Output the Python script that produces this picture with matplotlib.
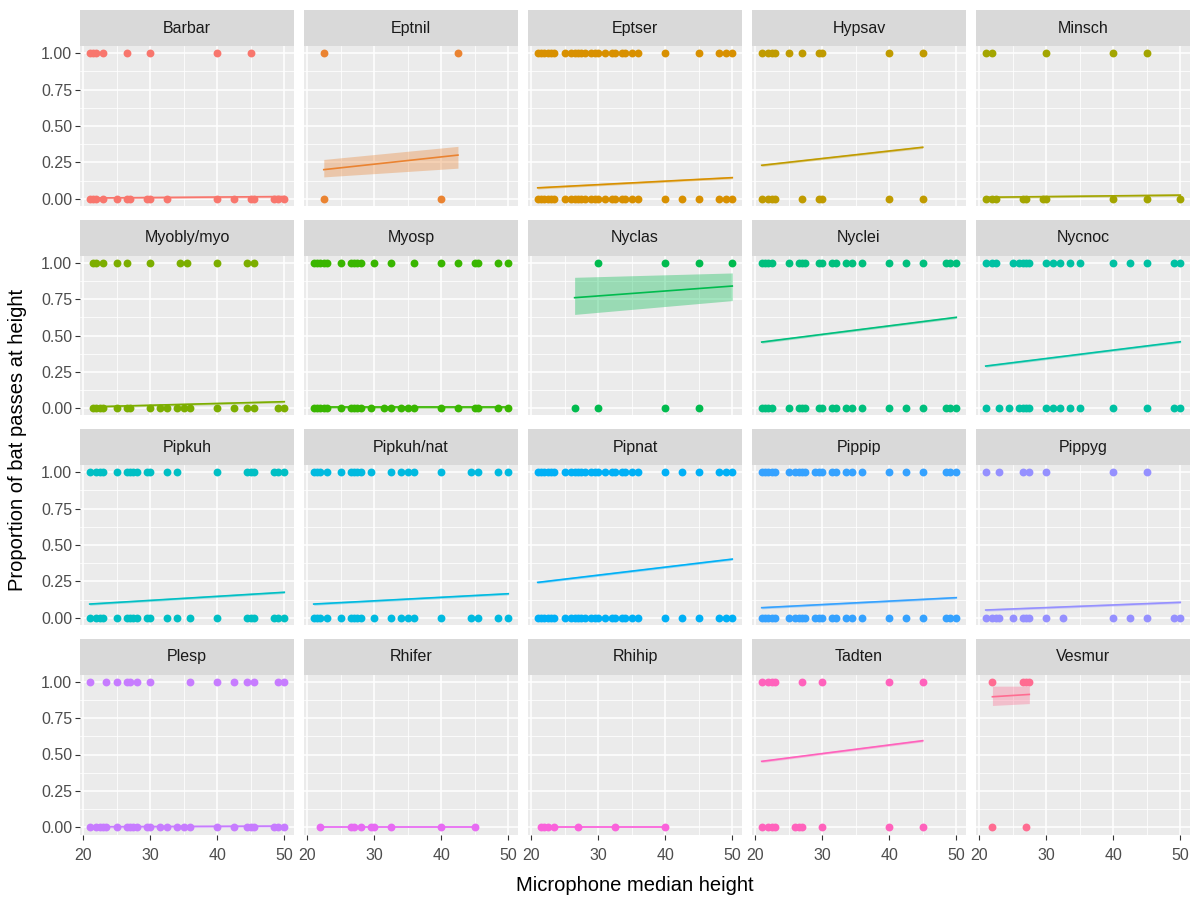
import matplotlib
matplotlib.use("Agg")
import matplotlib.pyplot as plt

plt.rcParams['font.family'] = ['Liberation Sans', 'DejaVu Sans']

species = ["Barbar", "Eptnil", "Eptser", "Hypsav", "Minsch",
           "Myobly/myo", "Myosp", "Nyclas", "Nyclei", "Nycnoc",
           "Pipkuh", "Pipkuh/nat", "Pipnat", "Pippip", "Pippyg",
           "Plesp", "Rhifer", "Rhihip", "Tadten", "Vesmur"]

# ggplot default hue palette for 20 levels
colours = ["#F8766D", "#EA8331", "#D89000", "#C09B00", "#A3A500",
           "#7CAE00", "#39B600", "#00BB4E", "#00BF7D", "#00C1A3",
           "#00BFC4", "#00BAE0", "#00B0F6", "#35A2FF", "#9590FF",
           "#C77CFF", "#E76BF3", "#FA62DB", "#FF62BC", "#FF6C91"]

# microphone heights where the proportion was 1
ones = {
    "Barbar": [21, 21.5, 22, 23, 26.5, 30, 40, 45],
    "Eptnil": [22.5, 42.5],
    "Eptser": [21, 21.5, 22, 22.5, 23, 23.5, 25, 26, 26.5, 27, 27.5, 28, 29, 29.5, 30,
               31, 32, 32.5, 33.5, 34, 35, 36, 40, 45, 48, 49, 50],
    "Hypsav": [21, 22, 22.5, 23, 25, 27, 29.5, 30, 40, 45],
    "Minsch": [21, 22, 30, 40, 45],
    "Myobly/myo": [21.5, 22, 23, 25, 26.5, 30, 34.5, 35.5, 40, 44.5, 45.5],
    "Myosp": [21, 21.5, 22, 22.5, 23, 25, 26.5, 27, 27.5, 28, 30, 32.5, 36, 40, 42.5,
              45, 45.5, 48.5, 50],
    "Nyclas": [30, 40, 45, 50],
    "Nyclei": [21, 21.5, 22, 22.5, 25, 26.5, 27, 27.5, 29.5, 30, 31.5, 32, 33.5, 34.5,
               36, 40, 42.5, 45, 48.5, 49, 50],
    "Nycnoc": [21, 22, 22.5, 25, 26, 26.5, 27, 27.5, 30, 31, 32, 33.5, 35, 40, 42.5,
               45, 49, 50],
    "Pipkuh": [21, 22, 22.5, 23, 25, 26.5, 27, 27.5, 28, 29.5, 30, 32.5, 34, 40, 44.5,
               45, 45.5, 48.5, 49, 50],
    "Pipkuh/nat": [21, 21.5, 22, 23, 25, 26.5, 27, 27.5, 28, 29.5, 32.5, 34, 35, 36, 40,
                   44.5, 45.5, 48.5, 50],
    "Pipnat": [21, 21.5, 22, 22.5, 23, 23.5, 25, 26, 26.5, 27, 27.5, 28, 29, 29.5, 30,
               31, 32, 32.5, 33.5, 34, 35, 36, 40, 42.5, 45, 48, 49, 50],
    "Pippip": [21, 21.5, 22, 22.5, 23, 25, 26, 26.5, 27, 27.5, 29, 29.5, 30, 31.5, 32,
               33.5, 34.5, 36, 40, 42.5, 45, 48.5, 49, 50],
    "Pippyg": [21, 23, 26.5, 27.5, 30, 40, 45],
    "Plesp": [21, 23.5, 25, 26.5, 27, 28, 30, 36, 40, 42.5, 44.5, 45.5, 49, 50],
    "Rhifer": [],
    "Rhihip": [],
    "Tadten": [21, 22, 22.5, 23, 27, 30, 40, 45],
    "Vesmur": [22, 26.5, 27, 27.5],
}

# microphone heights where the proportion was 0
zeros = {
    "Barbar": [21, 21.5, 22, 23, 25, 26.5, 27, 29.5, 30, 32.5, 40, 42.5, 45, 45.5,
               48.5, 49, 50],
    "Eptnil": [22.5, 40],
    "Eptser": [21, 21.5, 22, 22.5, 23, 23.5, 25, 26, 26.5, 27, 27.5, 28, 29, 29.5, 30,
               31, 32, 32.5, 33.5, 34, 35, 36, 40, 42.5, 45, 48, 49, 50],
    "Hypsav": [21, 22, 22.5, 23, 27, 29.5, 30, 40, 45],
    "Minsch": [21, 22, 22.5, 26.5, 27, 29.5, 30, 40, 45, 50],
    "Myobly/myo": [21.5, 22, 22.5, 23, 25, 26.5, 27, 30, 31.5, 32.5, 34, 35, 36, 40,
                   42.5, 44.5, 45.5, 49, 50],
    "Myosp": [21, 21.5, 22, 22.5, 23, 25, 26.5, 27, 27.5, 28, 29.5, 31.5, 32.5, 34, 35,
              36, 40, 42.5, 45, 45.5, 48.5, 50],
    "Nyclas": [26.5, 30, 40, 45],
    "Nyclei": [21, 21.5, 22, 22.5, 25, 26.5, 27, 27.5, 29.5, 30, 31.5, 32, 33.5, 34.5,
               36, 40, 42.5, 45, 48.5, 49, 50],
    "Nycnoc": [21, 23, 24.5, 26, 26.5, 27, 27.5, 30, 31, 32, 33.5, 35, 40, 45, 49, 50],
    "Pipkuh": [21, 22, 22.5, 23, 25, 26.5, 27, 27.5, 28, 29.5, 30, 32.5, 34, 36, 40,
               44.5, 45, 45.5, 48.5, 49, 50],
    "Pipkuh/nat": [21, 21.5, 22, 23, 25, 26.5, 27, 27.5, 28, 30, 32.5, 34, 35, 36, 40,
                   44.5, 45.5, 48.5, 50],
    "Pipnat": [21, 21.5, 22, 22.5, 23, 23.5, 25, 26, 26.5, 27, 27.5, 28, 29, 29.5, 30,
               31, 32, 32.5, 33.5, 34, 35, 36, 40, 42.5, 45, 48, 49, 50],
    "Pippip": [21, 21.5, 22, 22.5, 23, 25, 26, 26.5, 27, 27.5, 29, 29.5, 30, 31.5, 32,
               33.5, 34.5, 36, 40, 42.5, 45, 48.5, 49, 50],
    "Pippyg": [21, 22, 22.5, 23, 25, 26.5, 27, 27.5, 30, 32.5, 40, 42.5, 45, 49, 50],
    "Plesp": [21, 22, 22.5, 23, 23.5, 25, 26.5, 27, 27.5, 28, 29.5, 30, 31.5, 32.5, 34,
              35, 36, 40, 42.5, 44.5, 45, 45.5, 48.5, 49, 50],
    "Rhifer": [22, 26.5, 27, 28, 29.5, 30, 32.5, 40, 45],
    "Rhihip": [21.5, 22, 22.5, 23.5, 27, 32.5, 40],
    "Tadten": [21, 22, 22.5, 23, 26, 26.5, 27, 30, 40, 45],
    "Vesmur": [22, 27],
}

# smooth fit at lowest and highest height, with its confidence band
fit_y = {
    "Barbar": (0.005, 0.015), "Eptnil": (0.20, 0.30), "Eptser": (0.075, 0.145),
    "Hypsav": (0.23, 0.354), "Minsch": (0.01, 0.025), "Myobly/myo": (0.01, 0.045),
    "Myosp": (0.005, 0.005), "Nyclas": (0.76, 0.84), "Nyclei": (0.455, 0.625),
    "Nycnoc": (0.29, 0.457), "Pipkuh": (0.094, 0.175), "Pipkuh/nat": (0.094, 0.165),
    "Pipnat": (0.243, 0.403), "Pippip": (0.069, 0.138), "Pippyg": (0.053, 0.106),
    "Plesp": (0.003, 0.008), "Rhifer": (0.0, 0.0), "Rhihip": (0.0, 0.0),
    "Tadten": (0.453, 0.595), "Vesmur": (0.897, 0.913),
}
ci_lo = {
    "Eptnil": (0.15, 0.21), "Nyclas": (0.645, 0.74), "Vesmur": (0.837, 0.85),
}
ci_hi = {
    "Eptnil": (0.27, 0.36), "Nyclas": (0.90, 0.93), "Vesmur": (0.97, 0.97),
}

W, H = 1199, 897
fig = plt.figure(figsize=(W / 100, H / 100), dpi=100)


def box(left, top, w, h):
    return [left / W, 1 - (top + h) / H, w / W, h / H]


for i, sp in enumerate(species):
    r, c = divmod(i, 5)
    left = 80 + 224 * c
    top = 46 + 209.5 * r
    col = colours[i]

    ax = fig.add_axes(box(left, top, 214, 160))
    ax.set_facecolor('#EBEBEB')
    for s in ax.spines.values():
        s.set_visible(False)
    ax.set_xlim(19.55, 51.45)
    ax.set_ylim(-0.05, 1.05)
    ax.set_xticks([20, 30, 40, 50])
    ax.set_xticks([25, 35, 45], minor=True)
    ax.set_yticks([0, 0.25, 0.5, 0.75, 1.0])
    ax.set_yticks([0.125, 0.375, 0.625, 0.875], minor=True)
    ax.set_yticklabels(['0.00', '0.25', '0.50', '0.75', '1.00'])
    ax.grid(which='major', color='white', lw=1.1)
    ax.grid(which='minor', color='white', lw=0.55)
    ax.set_axisbelow(True)
    ax.tick_params(which='minor', length=0)
    ax.tick_params(which='major', length=3.5, width=0.8, color='#333333',
                   labelcolor='#4D4D4D', labelsize=11.5, pad=2)
    ax.tick_params(axis='x', which='major', pad=6)
    if c != 0:
        ax.tick_params(axis='y', which='major', length=0, labelleft=False)
    if r != 3:
        ax.tick_params(axis='x', which='major', length=0, labelbottom=False)

    xs = ones[sp] + zeros[sp]
    x0, x1 = min(xs), max(xs)
    lo = ci_lo.get(sp, (fit_y[sp][0] - 0.008, fit_y[sp][1] - 0.008))
    hi = ci_hi.get(sp, (fit_y[sp][0] + 0.008, fit_y[sp][1] + 0.008))
    ax.scatter(ones[sp], [1] * len(ones[sp]), s=32, color=col, lw=0, zorder=3)
    ax.scatter(zeros[sp], [0] * len(zeros[sp]), s=32, color=col, lw=0, zorder=3)
    ax.fill_between([x0, x1], lo, hi, color=col, alpha=0.35, lw=0, zorder=4)
    ax.plot([x0, x1], fit_y[sp], color=col, lw=1.2, zorder=5)

    st = fig.add_axes(box(left, top - 36, 214, 36))
    st.set_facecolor('#D9D9D9')
    st.set_xticks([])
    st.set_yticks([])
    for s in st.spines.values():
        s.set_visible(False)
    st.text(0.5, 0.5, sp, ha='center', va='center', fontsize=11.5, color='#1A1A1A',
            transform=st.transAxes)

fig.text(635 / W, 1 - 885 / H, "Microphone median height", ha='center', va='center',
         fontsize=14.5, color='black')
fig.text(18 / W, 1 - 440 / H, "Proportion of bat passes at height", ha='center',
         va='center', rotation=90, fontsize=14.5, color='black')

fig.savefig("out.png", dpi=100, facecolor='white')
